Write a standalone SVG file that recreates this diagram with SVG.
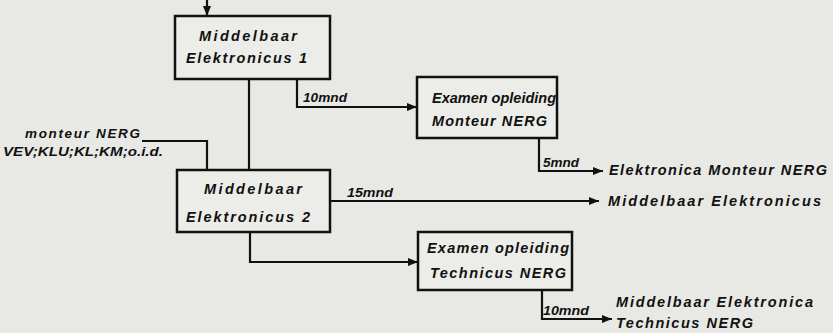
<svg xmlns="http://www.w3.org/2000/svg" width="833" height="333" viewBox="0 0 833 333">
<style>
.bg{fill:#e8e8e4}
.box{fill:#ecece8;stroke:#111;stroke-width:2.5}
.ln{fill:none;stroke:#111;stroke-width:2.2}
text{font-family:"Liberation Sans",Arial,sans-serif;font-weight:bold;font-style:italic;font-size:14.5px;fill:#111}
.sm{font-size:13.5px}
</style>
<defs>
<marker id="ah" markerWidth="10" markerHeight="8" refX="10" refY="4" orient="auto" markerUnits="userSpaceOnUse">
<path d="M0,0 L10,4 L0,8 Z" fill="#111"/>
</marker>
</defs>
<rect class="bg" x="0" y="0" width="833" height="333"/>
<g id="connectors">
<path class="ln" d="M207,0 V16" marker-end="url(#ah)"/>
<path class="ln" d="M249,79 V170"/>
<path class="ln" d="M297,79 V107 H417" marker-end="url(#ah)"/>
<path class="ln" d="M539,138 V171 H603" marker-end="url(#ah)"/>
<path class="ln" d="M142,141 H207 V170"/>
<path class="ln" d="M330,201 H599" marker-end="url(#ah)"/>
<path class="ln" d="M250,232 V262 H418" marker-end="url(#ah)"/>
<path class="ln" d="M542,290 V319 H612" marker-end="url(#ah)"/>
<text class="sm" x="303" y="102" textLength="44" lengthAdjust="spacingAndGlyphs">10mnd</text>
<text class="sm" x="543" y="167" textLength="36" lengthAdjust="spacingAndGlyphs">5mnd</text>
<text class="sm" x="347" y="197" textLength="46" lengthAdjust="spacingAndGlyphs">15mnd</text>
<text class="sm" x="543" y="315" textLength="46" lengthAdjust="spacingAndGlyphs">10mnd</text>
</g>
<g id="box1">
<rect class="box" x="175" y="16" width="155" height="63"/>
<text x="199" y="41" textLength="98" lengthAdjust="spacing">Middelbaar</text>
<text x="186" y="63" textLength="121" lengthAdjust="spacing">Elektronicus 1</text>
</g>
<g id="box-monteur">
<rect class="box" x="417" y="77" width="140" height="61"/>
<text x="432" y="103" textLength="124" lengthAdjust="spacingAndGlyphs">Examen opleiding</text>
<text x="432" y="126" textLength="115" lengthAdjust="spacing">Monteur NERG</text>
</g>
<g id="input-monteur">
<text class="sm" x="25" y="138" textLength="115" lengthAdjust="spacing">monteur NERG</text>
<text class="sm" x="3" y="156" textLength="160" lengthAdjust="spacingAndGlyphs">VEV;KLU;KL;KM;o.i.d.</text>
</g>
<g id="box2">
<rect class="box" x="177" y="170" width="153" height="62"/>
<text x="204" y="194" textLength="98" lengthAdjust="spacing">Middelbaar</text>
<text x="186" y="222" textLength="124" lengthAdjust="spacing">Elektronicus 2</text>
</g>
<g id="box-technicus">
<rect class="box" x="418" y="232" width="154" height="58"/>
<text x="427" y="253" textLength="142" lengthAdjust="spacing">Examen opleiding</text>
<text x="430" y="278" textLength="136" lengthAdjust="spacing">Technicus NERG</text>
</g>
<g id="out-monteur">
<text x="609" y="175" textLength="218" lengthAdjust="spacing">Elektronica Monteur NERG</text>
</g>
<g id="out-elektronicus">
<text x="608" y="206" textLength="213" lengthAdjust="spacing">Middelbaar Elektronicus</text>
</g>
<g id="out-technicus">
<text x="616" y="307" textLength="197" lengthAdjust="spacing">Middelbaar Elektronica</text>
<text x="616" y="328" textLength="137" lengthAdjust="spacing">Technicus NERG</text>
</g>
</svg>
